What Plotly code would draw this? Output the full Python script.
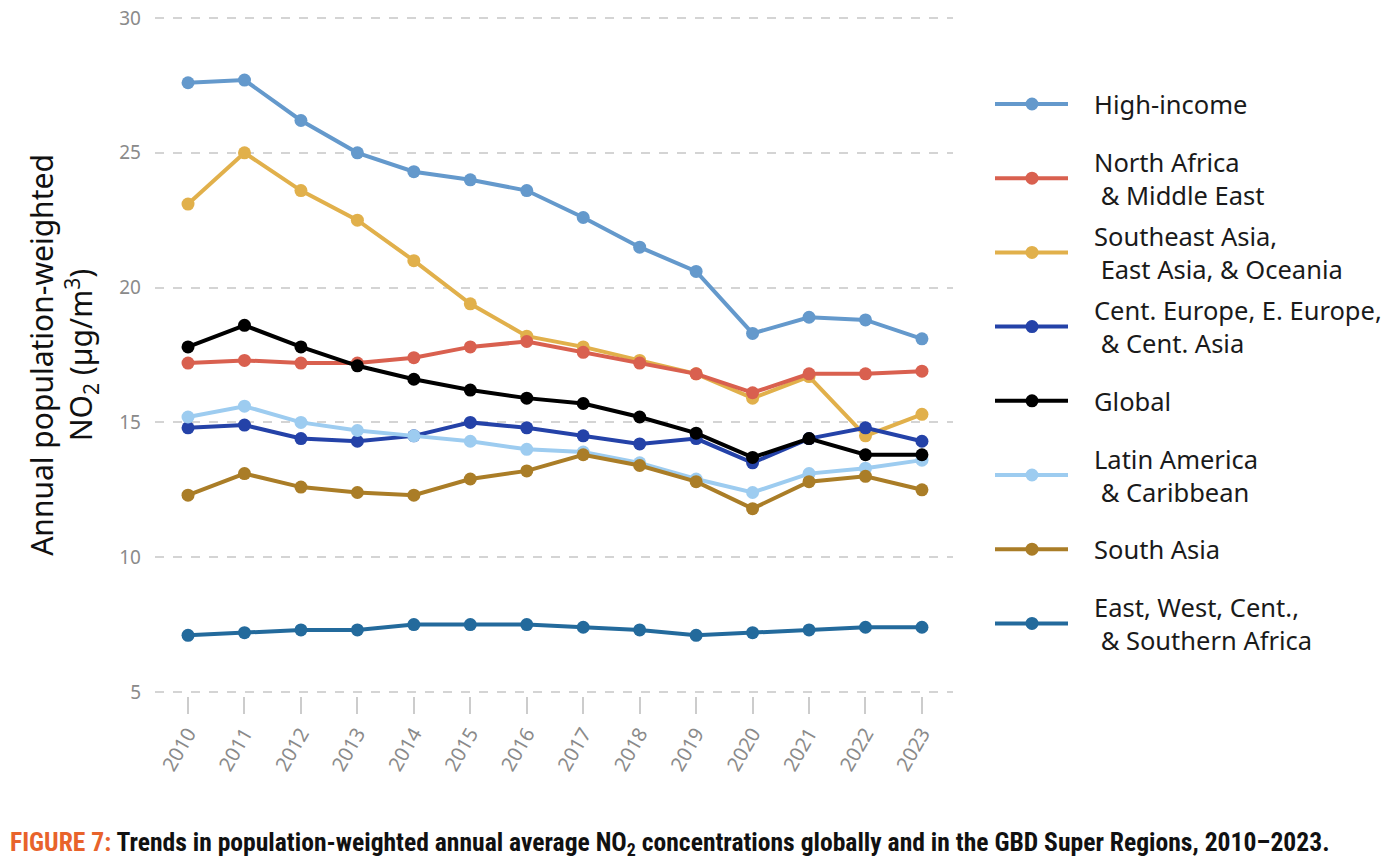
import plotly.graph_objects as go

years = list(range(2010, 2024))

high_income = [27.6, 27.7, 26.2, 25.0, 24.3, 24.0, 23.6, 22.6, 21.5, 20.6, 18.3, 18.9, 18.8, 18.1]
north_africa = [17.2, 17.3, 17.2, 17.2, 17.4, 17.8, 18.0, 17.6, 17.2, 16.8, 16.1, 16.8, 16.8, 16.9]
se_asia = [23.1, 25.0, 23.6, 22.5, 21.0, 19.4, 18.2, 17.8, 17.3, 16.8, 15.9, 16.7, 14.5, 15.3]
cent_europe = [14.8, 14.9, 14.4, 14.3, 14.5, 15.0, 14.8, 14.5, 14.2, 14.4, 13.5, 14.4, 14.8, 14.3]
global_ = [17.8, 18.6, 17.8, 17.1, 16.6, 16.2, 15.9, 15.7, 15.2, 14.6, 13.7, 14.4, 13.8, 13.8]
latin_america = [15.2, 15.6, 15.0, 14.7, 14.5, 14.3, 14.0, 13.9, 13.5, 12.9, 12.4, 13.1, 13.3, 13.6]
south_asia = [12.3, 13.1, 12.6, 12.4, 12.3, 12.9, 13.2, 13.8, 13.4, 12.8, 11.8, 12.8, 13.0, 12.5]
africa = [7.1, 7.2, 7.3, 7.3, 7.5, 7.5, 7.5, 7.4, 7.3, 7.1, 7.2, 7.3, 7.4, 7.4]

series_names = [
    "High-income",
    "North Africa<br> & Middle East",
    "Southeast Asia,<br> East Asia, & Oceania",
    "Cent. Europe, E. Europe,<br> & Cent. Asia",
    "Global",
    "Latin America<br> & Caribbean",
    "South Asia",
    "East, West, Cent.,<br> & Southern Africa",
]
series_values = [high_income, north_africa, se_asia, cent_europe, global_,
                 latin_america, south_asia, africa]
series_colors = ["#6499CC", "#D9604F", "#E1B04B", "#2442A8", "#000000",
                 "#9DCCF0", "#AA7D27", "#236A9C"]

y_ticks = [5, 10, 15, 20, 25, 30]

# layout geometry (pixels; body margin removed in the page)
W, H = 1390, 868
ML, MR, MT, MB = 155, 437, 14, 172
PW, PH = W - ML - MR, H - MT - MB

def px_x(p):  # pixel -> paper x
    return (p - ML) / PW

def px_y(p):  # pixel -> paper y
    return (H - MB - p) / PH

fig = go.Figure()
draw_order = [2, 1, 0, 3, 5, 6, 7, 4]
for i in draw_order:
    fig.add_trace(go.Scatter(
        x=years, y=series_values[i], name=series_names[i].replace("<br>", ""),
        mode="lines+markers",
        line=dict(color=series_colors[i], width=4),
        marker=dict(color=series_colors[i], size=13),
        showlegend=False,
    ))

# custom legend (long line samples like the reference)
leg_top, leg_step = 104, 74.2
for i, (name, color) in enumerate(zip(series_names, series_colors)):
    cy = px_y(leg_top + i * leg_step)
    fig.add_shape(type="line", xref="paper", yref="paper",
                  x0=px_x(995), x1=px_x(1068), y0=cy, y1=cy,
                  line=dict(color=color, width=4))
    fig.add_shape(type="circle", xref="paper", yref="paper",
                  xsizemode="pixel", ysizemode="pixel",
                  xanchor=px_x(1032), yanchor=cy,
                  x0=-6.5, x1=6.5, y0=-6.5, y1=6.5,
                  fillcolor=color, line=dict(color=color, width=0))
    fig.add_annotation(xref="paper", yref="paper", x=px_x(1092), y=cy,
                       xanchor="left", yanchor="middle", align="left",
                       showarrow=False, text=name,
                       font=dict(size=25.5, color="#1a1a1a"))

fig.update_layout(
    width=W, height=H,
    paper_bgcolor="white", plot_bgcolor="white",
    margin=dict(l=ML, r=MR, t=MT, b=MB),
    font=dict(family="Noto Sans, Open Sans, sans-serif", color="#222"),
    showlegend=False,
    xaxis=dict(
        range=[2009.415, 2023.55],
        tickmode="array", tickvals=years, ticktext=[str(y) for y in years],
        tickangle=-60,
        tickfont=dict(size=20, color="#8a8a8a"),
        ticks="outside", ticklen=17, tickcolor="#cccccc", tickwidth=1.5,
        showgrid=False, zeroline=False, showline=False, automargin=False,
        ticklabeloverflow="allow",
    ),
    yaxis=dict(
        range=[4.85, 30.15],
        tickmode="array", tickvals=y_ticks,
        tickfont=dict(size=19, color="#8a8a8a"),
        showgrid=True, gridcolor="#d4d4d4", griddash="dash", gridwidth=1.5,
        zeroline=False, showline=False, ticks="", ticklabelstandoff=13,
        automargin=False, ticklabeloverflow="allow",
        title=dict(
            text="Annual population-weighted<br>NO<sub>2</sub> (µg/m<sup>3</sup>)",
            font=dict(size=30, color="#111"),
            standoff=17,
        ),
    ),
)

fig.add_annotation(
    xref="paper", yref="paper", x=px_x(8), y=px_y(843), xanchor="left", yanchor="middle",
    showarrow=False,
    text="<b><span style='color:#E8632B'>FIGURE 7:</span> Trends in population-weighted annual average NO<sub>2</sub> concentrations globally and in the GBD Super Regions, 2010–2023.</b>",
    font=dict(family="Roboto Condensed, Liberation Sans Narrow, Arial Narrow, sans-serif", size=25.6, color="#111"),
)

fig.write_html("out.html", config={"displayModeBar": False},
               post_script="document.body.style.margin='0px';")
